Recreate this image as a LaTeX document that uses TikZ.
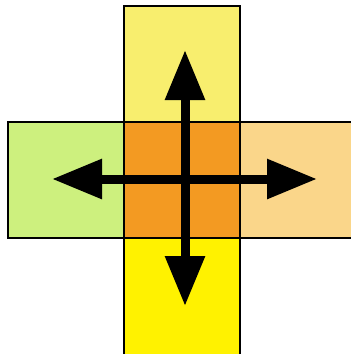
\documentclass[tikz,border=0pt]{standalone}
\usetikzlibrary{arrows.meta}
\definecolor{topc}{HTML}{F8EE6E}
\definecolor{leftc}{HTML}{CDF07E}
\definecolor{midc}{HTML}{F39A22}
\definecolor{rightc}{HTML}{FAD68A}
\definecolor{botc}{HTML}{FFF200}
\tikzset{sq/.style={draw=black,line width=1.4pt},
 arr/.style={line width=9pt,-{Triangle[length=50pt,width=38pt]}}}
\begin{document}
\begin{tikzpicture}[x=1pt,y=-1pt]
\useasboundingbox[fill=white] (0,0) rectangle (351,354);
\filldraw[sq,fill=topc] (124,6) rectangle (240,122);
\filldraw[sq,fill=leftc] (8,122) rectangle (124,238);
\filldraw[sq,fill=rightc] (240,122) rectangle (358,238);
\filldraw[sq,fill=botc] (124,238) rectangle (240,356);
\filldraw[sq,fill=midc] (124,122) rectangle (240,238);
\coordinate (c) at (185,179);
\coordinate (t) at (185,50);
\coordinate (b) at (185,306);
\coordinate (l) at (52,179);
\coordinate (r) at (317,179);
\draw[arr] (c) -- (t);
\draw[arr] (c) -- (b);
\draw[arr] (c) -- (l);
\draw[arr] (c) -- (r);
\end{tikzpicture}
\end{document}
